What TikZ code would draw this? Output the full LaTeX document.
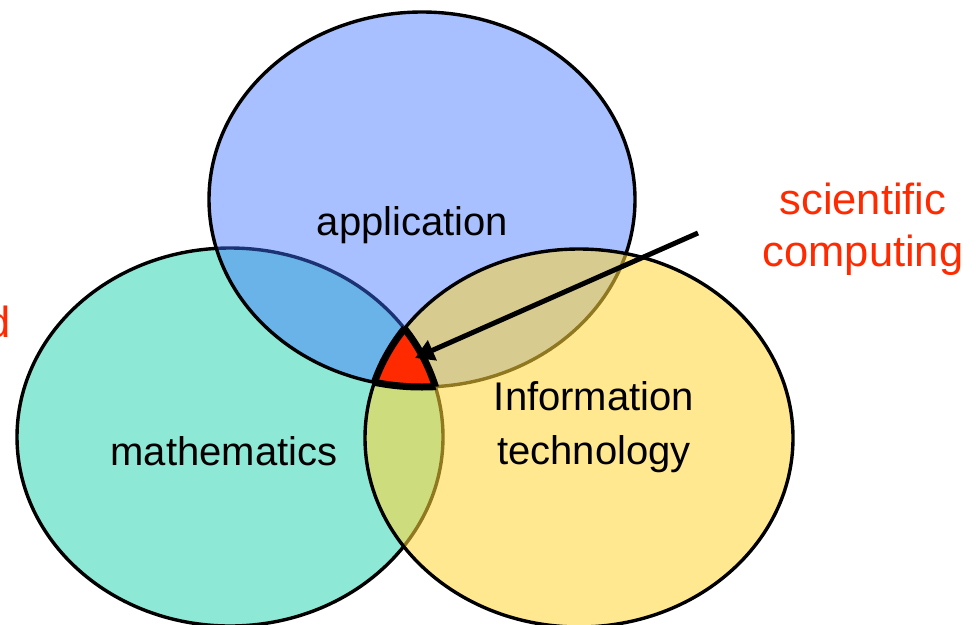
\documentclass[tikz,border=0pt]{standalone}
\usepackage{fontspec}
\setmainfont{Liberation Sans}
\usetikzlibrary{arrows.meta}
\definecolor{cgreen}{RGB}{142,232,214}
\definecolor{cblue}{RGB}{62,115,255}
\definecolor{cyellow}{RGB}{255,214,57}
\definecolor{cred}{RGB}{255,42,0}
\def\ellB{(422,199.5) ellipse [x radius=213, y radius=187.5]}
\def\ellG{(230,437) ellipse [x radius=213, y radius=189]}
\def\ellY{(579,438) ellipse [x radius=214, y radius=189]}
\tikzset{
  venn/.style={draw=black, line width=3.4},
  lbl/.style={font=\fontsize{40}{48}\selectfont, text=black, inner sep=0, anchor=base},
  redlbl/.style={font=\fontsize{43.5}{52}\selectfont, text=cred, inner sep=0, anchor=base},
  redrim/.style={draw=black, line width=7},
  pointer/.style={line width=5, -{Triangle[length=19,width=21]}}
}
\begin{document}
\begin{tikzpicture}[x=1pt,y=-1pt]
\useasboundingbox (0,0) rectangle (979,624);
% circles
\path[venn, fill=cgreen] \ellG;
\path[venn, fill=cblue, fill opacity=0.45] \ellB;
\path[venn, fill=cyellow, fill opacity=0.56] \ellY;
% triple intersection
\begin{scope}
  \clip \ellY; \clip \ellG;
  \fill[cred] \ellB;
  \path[redrim] \ellB;
\end{scope}
\begin{scope}
  \clip \ellB; \clip \ellG;
  \path[redrim] \ellY;
\end{scope}
\begin{scope}
  \clip \ellB; \clip \ellY;
  \path[redrim] \ellG;
\end{scope}
% labels
\node[lbl] (app) at (412.5,235) {application};
\node[lbl] (math) at (224,465) {mathematics};
\node[lbl] (info1) at (594,410) {Information};
\node[lbl] (info2) at (594,464) {technology};
\node[redlbl] (sci1) at (863,214) {scientific};
\node[redlbl] (sci2) at (863,266) {computing};
\node[redlbl, anchor=base east] (cut) at (11,337) {d};
% arrow
\coordinate (arrowstart) at (698,233);
\coordinate (arrowtip) at (415,358);
\draw[pointer] (arrowstart) -- (arrowtip);
\end{tikzpicture}
\end{document}
